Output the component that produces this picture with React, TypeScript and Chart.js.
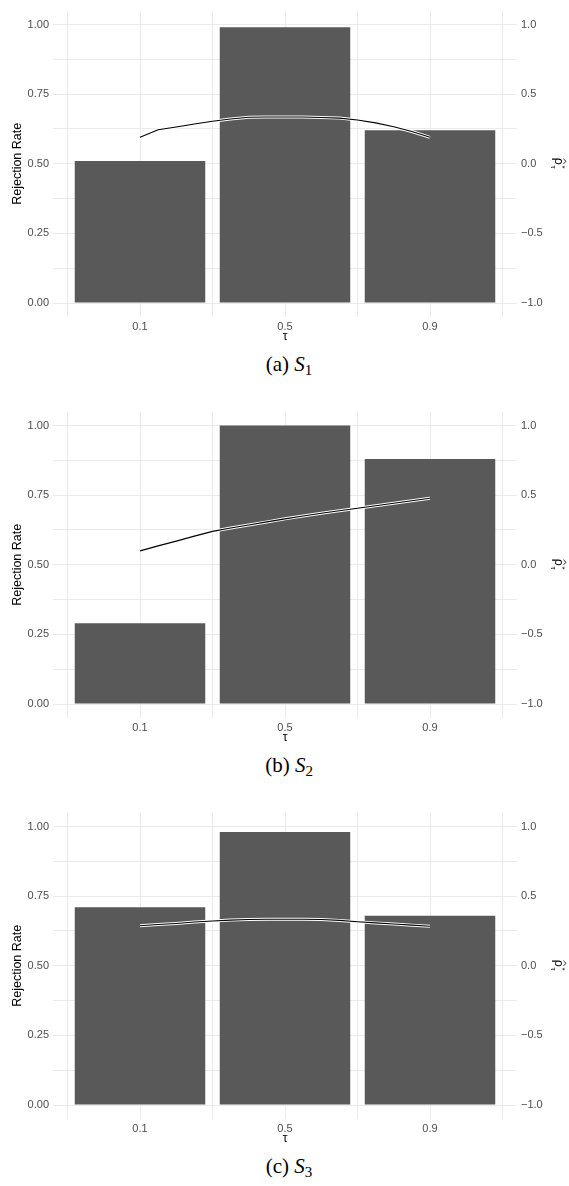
import React, { useEffect, useRef } from "react";
import { Chart, registerables } from "chart.js";

Chart.register(...registerables);

// ---------- data ----------
const xLabels = ["0.1", "0.5", "0.9"];
const yMajorTicks = [0, 0.25, 0.5, 0.75, 1];
const yMinorTicks = [0.125, 0.375, 0.625, 0.875];
const y2Ticks = [-1, -0.5, 0, 0.5, 1];
const xMinorTicks = [0.5, 1.5, 2.5, 3.5];

const tauGrid = [0.1, 0.15, 0.2, 0.25, 0.3, 0.35, 0.4, 0.45, 0.5, 0.55, 0.6, 0.65, 0.7, 0.75, 0.8, 0.85, 0.9];

const rejectionS1 = [0.51, 0.99, 0.62];
const rejectionS2 = [0.29, 1.0, 0.88];
const rejectionS3 = [0.71, 0.98, 0.68];

const rhoS1 = [0.19, 0.244, 0.264, 0.286, 0.306, 0.322, 0.334, 0.336, 0.336, 0.336, 0.332, 0.328, 0.314, 0.294, 0.266, 0.232, 0.19];
const rhoS2 = [0.1, 0.136, 0.17, 0.206, 0.24, 0.264, 0.286, 0.308, 0.33, 0.35, 0.37, 0.388, 0.406, 0.424, 0.442, 0.46, 0.478];
const rhoS3 = [0.288, 0.296, 0.304, 0.314, 0.322, 0.328, 0.332, 0.334, 0.334, 0.334, 0.332, 0.326, 0.316, 0.308, 0.3, 0.292, 0.284];

const panelLetters = ["a", "b", "c"];
const panelSubs = ["1", "2", "3"];
const panelRejection = [rejectionS1, rejectionS2, rejectionS3];
const panelRho = [rhoS1, rhoS2, rhoS3];

// ---------- layout ----------
const W = 569;
const CANVAS_H = 345;
const PANEL_STEP = 401;
const SANS = "'Liberation Sans', Arial, Helvetica, sans-serif";
const GRID = "#ebebeb";
const TICK_COLOR = "#4d4d4d";

const titlesPlugin = {
  id: "axisTitles",
  afterDraw(chart: any) {
    const { ctx, chartArea } = chart;
    const cy = (chartArea.top + chartArea.bottom) / 2;
    ctx.save();
    ctx.fillStyle = "#000";
    ctx.strokeStyle = "#000";
    // left title
    ctx.font = `12.5px ${SANS}`;
    ctx.textAlign = "center";
    ctx.textBaseline = "middle";
    ctx.save();
    ctx.translate(18, cy);
    ctx.rotate(-Math.PI / 2);
    ctx.fillText("Rejection Rate", 0, 0);
    ctx.restore();
    // x title
    ctx.font = `12px ${SANS}`;
    ctx.fillText("τ", (chartArea.left + chartArea.right) / 2, 337);
    // right title: rho hat * tau, reading top to bottom
    ctx.save();
    ctx.translate(555, cy - 6);
    ctx.rotate(Math.PI / 2);
    ctx.textAlign = "left";
    ctx.textBaseline = "alphabetic";
    ctx.font = `12.5px ${SANS}`;
    ctx.fillText("ρ", 0, 0);
    const w = ctx.measureText("ρ").width;
    // hat
    ctx.lineWidth = 0.9;
    ctx.beginPath();
    ctx.moveTo(w * 0.15, -8.5);
    ctx.lineTo(w * 0.5, -11);
    ctx.lineTo(w * 0.85, -8.5);
    ctx.stroke();
    ctx.font = `8px ${SANS}`;
    ctx.fillText("*", w + 0.5, -5);
    ctx.fillText("τ", w + 0.5, 4);
    ctx.restore();
    ctx.restore();
  },
};

function Panel({ index }: { index: number }) {
  const ref = useRef<HTMLCanvasElement | null>(null);
  useEffect(() => {
    if (!ref.current) return;
    const bars = panelRejection[index].map((v, i) => ({ x: i + 1, y: v }));
    const line = tauGrid.map((t, i) => ({ x: 1 + (t - 0.1) / 0.4, y: panelRho[index][i] }));
    const chart = new Chart(ref.current, {
      type: "bar",
      data: {
        datasets: [
          {
            type: "bar",
            data: bars,
            backgroundColor: "#595959",
            borderWidth: 0,
            categoryPercentage: 1,
            barPercentage: 0.9,
            xAxisID: "x",
            yAxisID: "y",
            order: 3,
          } as any,
          {
            type: "line",
            data: line,
            borderColor: "#ffffff",
            borderWidth: 3,
            pointRadius: 0,
            tension: 0,
            xAxisID: "x",
            yAxisID: "y2",
            order: 2,
          } as any,
          {
            type: "line",
            data: line,
            borderColor: "#000000",
            borderWidth: 1.1,
            pointRadius: 0,
            tension: 0,
            xAxisID: "x",
            yAxisID: "y2",
            order: 1,
          } as any,
        ],
      },
      options: {
        responsive: false,
        animation: false,
        devicePixelRatio: 1,
        layout: { padding: { top: 3, left: 0, right: 0, bottom: 0 } },
        plugins: { legend: { display: false }, tooltip: { enabled: false } },
        scales: {
          x: {
            type: "linear",
            position: "bottom",
            offset: false,
            min: 0.4,
            max: 3.6,
            afterBuildTicks: (s: any) => {
              s.ticks = [1, 2, 3].map((v) => ({ value: v }));
            },
            afterFit: (s: any) => {
              s.height = 28;
            },
            ticks: {
              autoSkip: false,
              maxRotation: 0,
              padding: 3,
              color: TICK_COLOR,
              font: { family: SANS, size: 11 },
              callback: (v: any) => xLabels[Math.round(v) - 1] ?? "",
            },
            grid: { color: GRID, lineWidth: 1, drawTicks: false, offset: false },
            border: { display: false },
          },
          xMinor: {
            type: "linear",
            position: "bottom",
            offset: false,
            min: 0.4,
            max: 3.6,
            afterBuildTicks: (s: any) => {
              s.ticks = xMinorTicks.map((v) => ({ value: v }));
            },
            afterFit: (s: any) => {
              s.height = 0;
            },
            ticks: { display: false },
            grid: { color: GRID, lineWidth: 1, drawTicks: false, offset: false },
            border: { display: false },
          },
          y: {
            type: "linear",
            position: "left",
            min: -0.05,
            max: 1.05,
            afterBuildTicks: (s: any) => {
              s.ticks = [...yMajorTicks, ...yMinorTicks].sort((a, b) => a - b).map((v) => ({ value: v }));
            },
            afterFit: (s: any) => {
              s.width = 53;
            },
            ticks: {
              autoSkip: false,
              padding: 4,
              color: TICK_COLOR,
              font: { family: SANS, size: 11 },
              callback: (v: any) => (yMajorTicks.includes(v) ? Number(v).toFixed(2) : ""),
            },
            grid: { color: GRID, lineWidth: 1, drawTicks: false },
            border: { display: false },
          },
          y2: {
            type: "linear",
            position: "right",
            min: -1.1,
            max: 1.1,
            afterBuildTicks: (s: any) => {
              s.ticks = y2Ticks.map((v) => ({ value: v }));
            },
            afterFit: (s: any) => {
              s.width = 52;
            },
            ticks: {
              autoSkip: false,
              padding: 4,
              color: TICK_COLOR,
              font: { family: SANS, size: 11 },
              callback: (v: any) => {
                const s = Math.abs(v).toFixed(1);
                return v < 0 ? "\u2212" + s : s;
              },
            },
            grid: { display: false, drawTicks: false },
            border: { display: false },
          },
        },
      } as any,
      plugins: [titlesPlugin],
    });
    return () => chart.destroy();
  }, [index]);

  const top = index * PANEL_STEP;
  return (
    <>
      <div style={{ position: "absolute", left: 0, top, width: W, height: CANVAS_H }}>
        <canvas ref={ref} width={W} height={CANVAS_H} style={{ display: "block" }} />
      </div>
      <div
        style={{
          position: "absolute",
          left: 0,
          top: top + 352,
          width: 578,
          textAlign: "center",
          fontFamily: "'Liberation Serif', 'Times New Roman', serif",
          fontSize: 21,
          lineHeight: "24px",
          color: "#000",
        }}
      >
        ({panelLetters[index]}) <i>S</i>
        <sub style={{ fontSize: 15, verticalAlign: "-4px" }}>{panelSubs[index]}</sub>
      </div>
    </>
  );
}

export default function App() {
  return (
    <div style={{ position: "absolute", left: 0, top: 0, width: W, height: 1186, background: "#fff" }}>
      <Panel index={0} />
      <Panel index={1} />
      <Panel index={2} />
    </div>
  );
}
